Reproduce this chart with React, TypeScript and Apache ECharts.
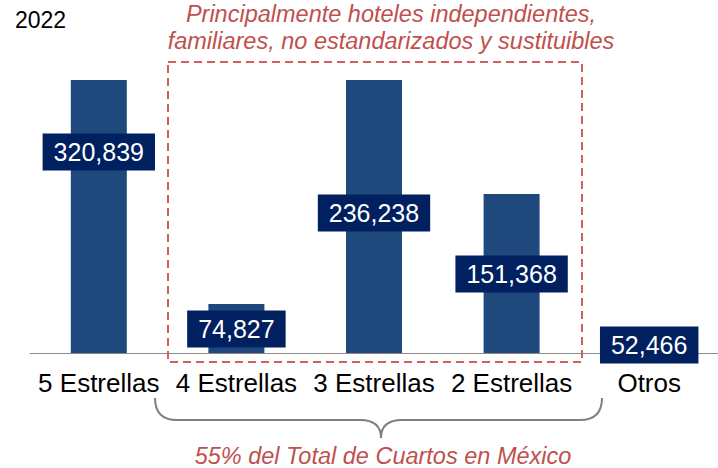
import React, { useEffect, useRef } from "react";
import * as echarts from "echarts";

const categories = ["5 Estrellas", "4 Estrellas", "3 Estrellas", "2 Estrellas", "Otros"];
// Visual bar heights as drawn in the reference (bars are not proportional to labels)
const barHeights = [273, 49, 273, 159, 0];
// Room counts shown in the labels
const roomCounts = [320839, 74827, 236238, 151368, 52466];
// Vertical anchor of each value label, in the same units as barHeights
const labelLevels = [201, 24, 140, 79, 8];

const yearText = "2022";
const noteTop = "Principalmente hoteles independientes,\nfamiliares, no estandarizados y sustituibles";
const noteBottom = "55% del Total de Cuartos en México";

const fmt = (v: number) => v.toLocaleString("en-US");

export default function App() {
  const ref = useRef<HTMLDivElement>(null);
  useEffect(() => {
    document.body.style.margin = "0";
    if (!ref.current) return;
    echarts.graphic.registerShape(
      "brace",
      echarts.graphic.extendPath(
        "M0,0 Q0,22 22,22 L205,22 Q226,22 226,40 Q226,22 247,22 L425,22 Q447,22 447,0",
        {}
      )
    );
    const chart = echarts.init(ref.current, null, { renderer: "svg" });
    const font = "Arial, 'Liberation Sans', Helvetica, sans-serif";
    chart.setOption({
      animation: false,
      grid: { left: 30, top: 80, width: 695, height: 273 },
      xAxis: {
        type: "category",
        data: categories,
        axisLine: { lineStyle: { color: "#8c8c8c", width: 1 } },
        axisTick: { show: false },
        axisLabel: { color: "#000", fontSize: 26, fontFamily: font, margin: 17, interval: 0 },
      },
      yAxis: { type: "value", min: 0, max: 273, show: false, splitLine: { show: false } },
      series: [
        {
          type: "bar",
          data: barHeights,
          barWidth: 56,
          itemStyle: { color: "#1F497D" },
          z: 2,
        },
        {
          type: "scatter",
          data: labelLevels,
          symbolSize: 1,
          itemStyle: { color: "rgba(0,0,0,0)", opacity: 1 },
          emphasis: { disabled: true },
          z: 5,
          label: {
            show: true,
            position: "inside",
            formatter: (p: any) => fmt(roomCounts[p.dataIndex]),
            color: "#fff",
            fontSize: 25,
            fontFamily: font,
            backgroundColor: "#002060",
            padding: [7, 11, 5, 11],
          },
        },
      ],
      graphic: [
        {
          type: "text",
          left: 15,
          top: 8,
          style: { text: yearText, fill: "#000", font: `23px ${font}` },
        },
        {
          type: "text",
          x: 391,
          y: 0,
          style: {
            text: noteTop,
            textAlign: "center",
            fill: "#C0504D",
            font: `italic 23.5px ${font}`,
            lineHeight: 27,
          },
        },
        {
          type: "rect",
          shape: { x: 168, y: 62, width: 414, height: 300 },
          style: { fill: "none", stroke: "#D06060", lineWidth: 2, lineDash: [8, 5] },
          z: 10,
        },
        {
          type: "brace",
          x: 155,
          y: 398,
          style: { fill: "none", stroke: "#7F7F7F", lineWidth: 2 },
        },
        {
          type: "text",
          x: 383,
          y: 444,
          style: {
            text: noteBottom,
            textAlign: "center",
            fill: "#C0504D",
            font: `italic 23.5px ${font}`,
          },
        },
      ],
    });
    return () => chart.dispose();
  }, []);
  return <div ref={ref} style={{ width: 718, height: 468 }} />;
}
